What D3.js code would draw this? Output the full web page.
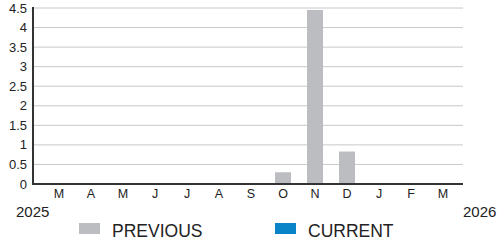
<!DOCTYPE html>
<html>
<head>
<meta charset="utf-8">
<script src="https://cdn.jsdelivr.net/npm/d3@7"></script>
<style>
  body { margin: 0; background: #fff; }
  text { font-family: "Liberation Sans", Arial, sans-serif; fill: #222; }
</style>
</head>
<body>
<div id="chart"></div>
<script>
// data
const months = ["M", "A", "M", "J", "J", "A", "S", "O", "N", "D", "J", "F", "M"];
const previous = [0, 0, 0, 0, 0, 0, 0, 0.3, 4.45, 0.83, 0, 0, 0];
const current = [0, 0, 0, 0, 0, 0, 0, 0, 0, 0, 0, 0, 0];
const yTicks = [0, 0.5, 1, 1.5, 2, 2.5, 3, 3.5, 4, 4.5];
const yearLabels = ["2025", "2026"];
const seriesNames = ["PREVIOUS", "CURRENT"];
const colors = ["#bcbdc1", "#0a84c8"];

const W = 499, H = 246;
const plotL = 33, plotR = 463, plotT = 8, plotB = 184;

const svg = d3.select("#chart")
    .append("svg")
    .attr("width", W)
    .attr("height", H);

const x = d3.scaleBand()
    .domain(d3.range(months.length))
    .range([43, 459])
    .paddingInner(0.5)
    .paddingOuter(0.25);

const y = d3.scaleLinear()
    .domain([0, 4.5])
    .range([plotB, plotT]);

// gridlines
svg.selectAll("line.grid")
    .data(yTicks.filter(d => d > 0))
    .join("line")
    .attr("class", "grid")
    .attr("x1", plotL)
    .attr("x2", plotR)
    .attr("y1", d => y(d))
    .attr("y2", d => y(d))
    .attr("stroke", "#c8c8c8")
    .attr("stroke-width", 1);

// y labels
svg.selectAll("text.ylab")
    .data(yTicks)
    .join("text")
    .attr("class", "ylab")
    .attr("x", 27)
    .attr("y", d => y(d) + 4.5)
    .attr("text-anchor", "end")
    .attr("font-size", 13)
    .text(d => d);

// bars
svg.selectAll("rect.prev")
    .data(previous)
    .join("rect")
    .attr("class", "prev")
    .attr("x", (d, i) => x(i))
    .attr("width", x.bandwidth())
    .attr("y", d => y(d))
    .attr("height", d => y(0) - y(d))
    .attr("fill", colors[0]);

svg.selectAll("rect.cur")
    .data(current)
    .join("rect")
    .attr("class", "cur")
    .attr("x", (d, i) => x(i))
    .attr("width", x.bandwidth())
    .attr("y", d => y(d))
    .attr("height", d => y(0) - y(d))
    .attr("fill", colors[1]);

// axes lines
svg.append("line")
    .attr("x1", plotL).attr("x2", plotL)
    .attr("y1", plotT - 1).attr("y2", plotB + 1)
    .attr("stroke", "#333").attr("stroke-width", 2);
svg.append("line")
    .attr("x1", plotL - 1).attr("x2", plotR)
    .attr("y1", plotB).attr("y2", plotB)
    .attr("stroke", "#333").attr("stroke-width", 2);

// month labels
svg.selectAll("text.mlab")
    .data(months)
    .join("text")
    .attr("class", "mlab")
    .attr("x", (d, i) => x(i) + x.bandwidth() / 2)
    .attr("y", 198)
    .attr("text-anchor", "middle")
    .attr("font-size", 12.5)
    .text(d => d);

// years
svg.selectAll("text.year")
    .data(yearLabels)
    .join("text")
    .attr("class", "year")
    .attr("x", (d, i) => i === 0 ? 16 : 463)
    .attr("y", 217)
    .attr("font-size", 15)
    .text(d => d);

// legend
const lg = svg.selectAll("g.legend")
    .data(seriesNames)
    .join("g")
    .attr("class", "legend")
    .attr("transform", (d, i) => `translate(${79 + i * 196},223)`);
lg.append("rect")
    .attr("width", 21)
    .attr("height", 11)
    .attr("fill", (d, i) => colors[i]);
lg.append("text")
    .attr("x", 33)
    .attr("y", 14)
    .attr("font-size", 17.5)
    .text(d => d);
</script>
</body>
</html>
